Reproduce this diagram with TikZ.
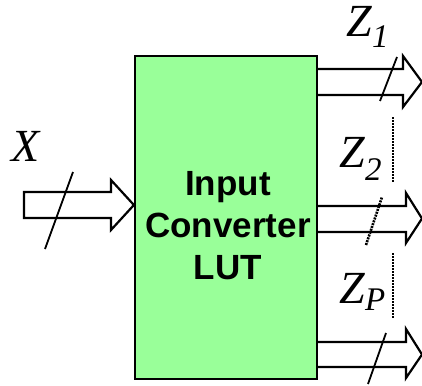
\documentclass[tikz,border=0pt]{standalone}
\usepackage{fontspec}
\setmainfont{Liberation Serif}
\newfontfamily\boxfont{Liberation Sans}
\definecolor{lutgreen}{RGB}{153,255,153}
\tikzset{
  blockarrow/.style={draw=black, fill=white, line width=2.2pt, line join=miter},
  slash/.style={draw=black, line width=1.8pt},
  dotslash/.style={draw=black, line width=2.6pt, dash pattern=on 2pt off 1pt},
  lab/.style={inner sep=0pt, anchor=base west, font=\fontsize{46}{46}\selectfont\itshape},
  sub/.style={inner sep=0pt, anchor=base west, font=\fontsize{33}{33}\selectfont\itshape},
  lutbox/.style={draw=black, fill=lutgreen, line width=2.2pt, minimum width=182pt, minimum height=323pt, inner sep=0pt}
}
\begin{document}
\begin{tikzpicture}[x=1pt,y=-1pt]
\useasboundingbox (0,0) rectangle (422,385);
% main box
\node[lutbox] (lut) at (226,217.5) {};
\node[font=\fontsize{35}{42}\selectfont\boxfont\bfseries, align=center, inner sep=0pt] (luttext) at (228,226) {Input\\Converter\\LUT};
% input arrow
\draw[blockarrow] (24,192) -- (111,192) -- (111,180) -- (lut.west |- 0,205) -- (111,230) -- (111,218) -- (24,218) -- cycle;
\draw[slash] (45,249) -- (73,172);
\node[lab] (x) at (11,161) {X};
% output arrow 1
\draw[blockarrow] (lut.east |- 0,69) -- (403,69) -- (403,56) -- (422,82) -- (403,107) -- (403,95) -- (lut.east |- 0,95);
\draw[slash] (380,101) -- (397,57);
\node[lab] (z1) at (346,37) {Z};
\node[sub] (z1s) at (z1.base east) [yshift=-11pt] {1};
% dotted
\draw[dotslash] (393,117) -- (393,182);
% output arrow 2
\draw[blockarrow] (lut.east |- 0,206) -- (406,206) -- (406,193) -- (422,218.5) -- (406,243) -- (406,232) -- (lut.east |- 0,232);
\draw[dotslash] (366,245) -- (382,197);
\node[lab] (z2) at (339,167) {Z};
\node[sub] (z2s) at (z2.base east) [yshift=-13pt] {2};
\draw[dotslash] (393,253) -- (393,318);
% output arrow P
\draw[blockarrow] (lut.east |- 0,342) -- (406,342) -- (406,329) -- (422,354.5) -- (406,378) -- (406,367) -- (lut.east |- 0,367);
\draw[slash] (368,384) -- (386,333);
\node[lab] (zp) at (339,303) {Z};
\node[sub] (zps) at (zp.base east) [yshift=-7pt] {P};
\end{tikzpicture}
\end{document}
